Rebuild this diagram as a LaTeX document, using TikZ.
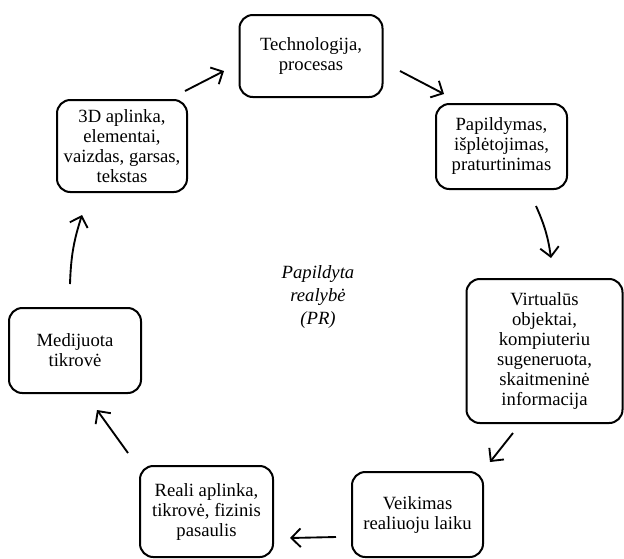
\documentclass[tikz,border=0pt]{standalone}
\usepackage{fontspec}
\setmainfont{Liberation Serif}
\usetikzlibrary{arrows.meta}
\begin{document}
\begin{tikzpicture}[x=0.75pt,y=-0.75pt,
  box/.style={draw, line width=1.5pt, rounded corners=10pt, align=center,
    font=\fontsize{14}{15}\selectfont, inner sep=0pt},
  arr/.style={line width=1.4pt, -{Straight Barb[length=7pt,width=14pt,line width=1.4pt]}},
  lbl/.style={align=center, font=\fontsize{14}{17.5}\selectfont\itshape}]
\useasboundingbox (0,0) rectangle (624,558);
\node[box, minimum width=107.25pt, minimum height=61.5pt] (tech) at (311,56) {Technologija,\\procesas};
\node[box, minimum width=97.5pt, minimum height=69pt] (d3) at (122,146) {3D aplinka,\\elementai,\\vaizdas, garsas,\\tekstas};
\node[box, minimum width=98.25pt, minimum height=63.75pt] (pap) at (501.5,146.5) {Papildymas,\\išplėtojimas,\\praturtinimas};
\node[box, minimum width=117pt, minimum height=108pt] (virt) at (544.5,351) {Virtualūs\\objektai,\\kompiuteriu\\sugeneruota,\\skaitmeninė\\informacija};
\node[box, minimum width=98.25pt, minimum height=63.75pt] (veik) at (417.5,514.5) {Veikimas\\realiuoju laiku};
\node[box, minimum width=99.75pt, minimum height=68.25pt] (reali) at (206.5,511.5) {Reali aplinka,\\tikrovė, fizinis\\pasaulis};
\node[box, minimum width=99pt, minimum height=63.75pt] (medij) at (75,350.5) {Medijuota\\tikrovė};
\node[lbl] (pr) at (318,297) {Papildyta\\realybė\\(PR)};
\coordinate (a1s) at (185,91);  \coordinate (a1e) at (224,71);
\coordinate (a2s) at (400,71);  \coordinate (a2e) at (444,94);
\coordinate (a3s) at (536,206); \coordinate (a3e) at (551,258);
\coordinate (a4s) at (513,433); \coordinate (a4e) at (490,462);
\coordinate (a5s) at (336,537); \coordinate (a5e) at (290,538);
\coordinate (a6s) at (128,453); \coordinate (a6e) at (97,410);
\coordinate (a7s) at (70,284);  \coordinate (a7e) at (82,215);
\draw[arr] (a1s) -- (a1e);
\draw[arr] (a2s) -- (a2e);
\draw[arr] (a3s) to[bend left=8] (a3e);
\draw[arr] (a4s) -- (a4e);
\draw[arr] (a5s) -- (a5e);
\draw[arr] (a6s) -- (a6e);
\draw[arr] (a7s) to[bend left=8] (a7e);
\end{tikzpicture}
\end{document}
